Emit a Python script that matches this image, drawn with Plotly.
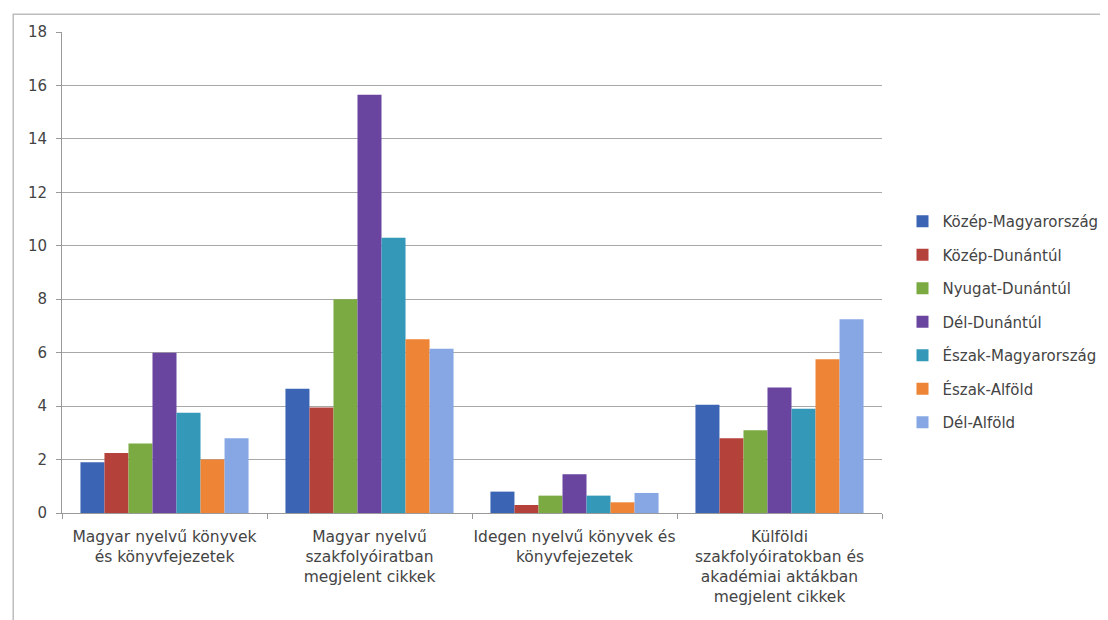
import plotly.graph_objects as go

categories = [
    "Magyar nyelvű könyvek<br>és könyvfejezetek",
    "Magyar nyelvű<br>szakfolyóiratban<br>megjelent cikkek",
    "Idegen nyelvű könyvek és<br>könyvfejezetek",
    "Külföldi<br>szakfolyóiratokban és<br>akadémiai aktákban<br>megjelent cikkek",
]

regions = [
    "Közép-Magyarország",
    "Közép-Dunántúl",
    "Nyugat-Dunántúl",
    "Dél-Dunántúl",
    "Észak-Magyarország",
    "Észak-Alföld",
    "Dél-Alföld",
]

kozep_magyarorszag = [1.9, 4.65, 0.8, 4.05]
kozep_dunantul = [2.25, 3.95, 0.3, 2.8]
nyugat_dunantul = [2.6, 8.0, 0.65, 3.1]
del_dunantul = [6.0, 15.65, 1.45, 4.7]
eszak_magyarorszag = [3.75, 10.3, 0.65, 3.9]
eszak_alfold = [2.0, 6.5, 0.4, 5.75]
del_alfold = [2.8, 6.15, 0.75, 7.25]

series = [kozep_magyarorszag, kozep_dunantul, nyugat_dunantul, del_dunantul,
          eszak_magyarorszag, eszak_alfold, del_alfold]
colors = ["#3B64B4", "#B5413B", "#7BAA42", "#6A45A0", "#3499B8", "#EE8436", "#86A7E3"]

y_ticks = [0, 2, 4, 6, 8, 10, 12, 14, 16, 18]

FONT = "DejaVu Sans"

fig = go.Figure()
for name, vals, col in zip(regions, series, colors):
    fig.add_trace(go.Bar(
        x=categories, y=vals, name=name,
        marker=dict(color=col, line=dict(width=0)),
        legendgroup=name,
    ))

fig.update_layout(
    width=1108, height=620,
    margin=dict(l=54, r=231, t=24, b=115),
    paper_bgcolor="white", plot_bgcolor="white",
    barmode="group", bargap=0.18, bargroupgap=0,
    font=dict(family=FONT, size=15, color="#444444"),
    legend=dict(
        x=1.025, xanchor="left", y=0.397, yanchor="middle",
        font=dict(family=FONT, size=15, color="#444444"),
        tracegroupgap=11, itemwidth=30,
        bgcolor="rgba(0,0,0,0)",
    ),
    showlegend=True,
)

fig.update_xaxes(
    type="category", tickangle=0, automargin=False,
    tickson="boundaries", ticks="outside", ticklen=5, tickcolor="#999999",
    showline=True, linecolor="#999999", linewidth=1,
    showgrid=False,
    tickfont=dict(family=FONT, size=15.5, color="#444444"),
    ticklabelstandoff=9,
)
fig.update_yaxes(
    range=[0, 18], tickvals=y_ticks, ticktext=[str(v) for v in y_ticks],
    ticks="outside", ticklen=5, tickcolor="#999999", automargin=False,
    showline=True, linecolor="#999999", linewidth=1,
    showgrid=True, gridcolor="#a8a8a8", gridwidth=1,
    zeroline=False,
    tickfont=dict(family=FONT, size=15, color="#444444"),
    ticklabelstandoff=6,
)

fig.add_shape(
    type="rect", xref="paper", yref="paper",
    x0=-0.0595, x1=1.4, y0=-0.4, y1=1.037,
    line=dict(color="#bdbdbd", width=1.5), fillcolor="rgba(0,0,0,0)",
    layer="below",
)

fig.write_html("out.html")
